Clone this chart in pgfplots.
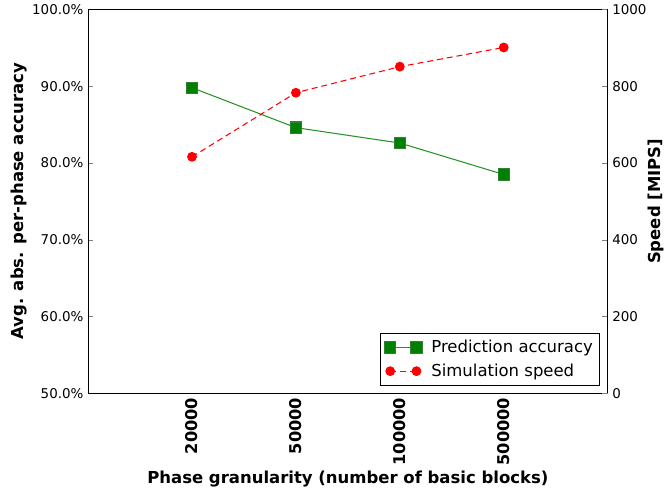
\documentclass[border=0pt]{standalone}
\usepackage{pgfplots}
\pgfplotsset{compat=1.18}
\usepackage{fontspec}
\setmainfont{DejaVu Sans}
\definecolor{mplgreen}{rgb}{0,0.5,0}
\begin{document}
\begin{tikzpicture}
\pgfplotsset{
  every axis/.append style={
    scale only axis, width=394pt, height=291pt,
    xmin=0, xmax=5,
    /pgf/number format/assume math mode=true,
    /pgf/number format/set thousands separator={},
    tick label style={font=\fontsize{10.2}{12}\selectfont},
    label style={font=\fontsize{12.5}{15}\selectfont\bfseries},
    tick align=inside, major tick length=4pt,
  }
}
\begin{axis}[
  axis y line*=left,
  ymin=0.5, ymax=1.0,
  ytick={0.5,0.6,0.7,0.8,0.9,1.0},
  yticklabels={50.0\%,60.0\%,70.0\%,80.0\%,90.0\%,100.0\%},
  xtick={1,2,3,4},
  xticklabels={20000,50000,100000,500000},
  xticklabel style={rotate=90, anchor=east, font=\fontsize{12.3}{14}\selectfont\bfseries},
  xtick style={draw=none},
  xlabel={Phase granularity (number of basic blocks)},
  xlabel style={yshift=3pt},
  ylabel={Avg. abs. per-phase accuracy},
  ylabel style={yshift=-3pt},
]
\addplot[color=mplgreen!85!white, line width=0.8pt, mark=square*, mark size=4.3pt,
  mark options={fill=mplgreen, draw=mplgreen!60!gray, solid}]
  coordinates {(1,0.898) (2,0.846) (3,0.826) (4,0.785)};
\end{axis}
\begin{axis}[
  axis y line*=right,
  axis x line=none,
  ymin=0, ymax=1000,
  ytick={0,200,400,600,800,1000},
  ylabel={Speed [MIPS]},
  ylabel style={yshift=6pt},
  legend style={at={(1,0)}, anchor=south east, xshift=-6pt, yshift=6pt,
    font=\fontsize{12.5}{15}\selectfont, draw=black, inner xsep=3pt, inner ysep=3pt,
    row sep=3pt, legend cell align=left,
    /tikz/every odd column/.append style={column sep=5pt}},
  legend image code/.code={
    \draw[mark repeat=1,#1] plot coordinates {(0cm,0cm) (0.7cm,0cm)};
  },
]
\addlegendimage{color=mplgreen!85!white, line width=0.8pt, mark=square*, mark size=4.3pt, mark options={fill=mplgreen, draw=mplgreen!60!gray, solid}}
\addlegendentry{Prediction accuracy}
\addplot[color=red, dash pattern=on 4.5pt off 3pt, line width=0.8pt, mark=*, mark size=3.3pt,
  mark options={fill=red, draw=red, solid}]
  coordinates {(1,616) (2,783) (3,851) (4,901)};
\addlegendentry{Simulation speed}
\end{axis}
\path ([xshift=-5pt]current bounding box.west);
\end{tikzpicture}
\end{document}
